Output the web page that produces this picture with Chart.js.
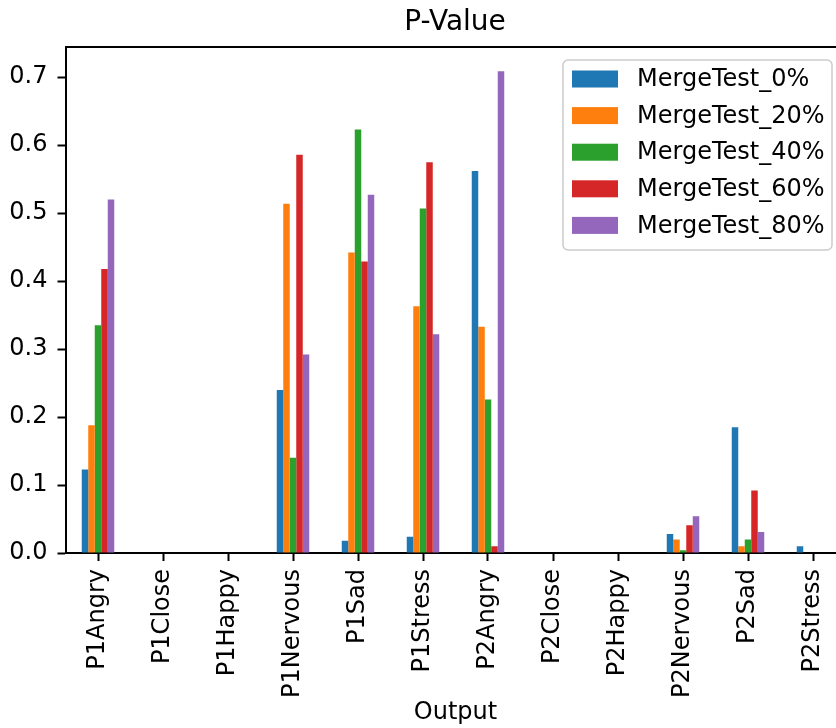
<!DOCTYPE html>
<html>
<head>
<meta charset="utf-8">
<script src="https://cdn.jsdelivr.net/npm/chart.js@4/dist/chart.umd.min.js"></script>
<style>
html,body{margin:0;padding:0;overflow:hidden;background:#fff;width:836px;height:728px;}
canvas{display:block;}
</style>
</head>
<body>
<canvas id="c" width="910" height="728"></canvas>
<script>
const categories = ['P1Angry','P1Close','P1Happy','P1Nervous','P1Sad','P1Stress','P2Angry','P2Close','P2Happy','P2Nervous','P2Sad','P2Stress'];
const seriesNames = ['MergeTest_0%','MergeTest_20%','MergeTest_40%','MergeTest_60%','MergeTest_80%'];
const mergeTest0  = [0.123,0,0,0.240,0.018,0.024,0.562,0,0,0.028,0.185,0.010];
const mergeTest20 = [0.188,0,0,0.514,0.442,0.363,0.333,0,0,0.020,0.010,0];
const mergeTest40 = [0.335,0,0,0.140,0.623,0.507,0.226,0,0,0.004,0.020,0];
const mergeTest60 = [0.418,0,0,0.586,0.429,0.575,0.010,0,0,0.041,0.092,0];
const mergeTest80 = [0.520,0,0,0.292,0.527,0.322,0.709,0,0,0.054,0.031,0];
const yTicks = [0.0,0.1,0.2,0.3,0.4,0.5,0.6,0.7];
const yMax = 0.7445;

const colors = ['#1f77b4','#ff7f0e','#2ca02c','#d62728','#9467bd'];
const seriesValues = [mergeTest0, mergeTest20, mergeTest40, mergeTest60, mergeTest80];
const FONT = "'DejaVu Sans', sans-serif";

const framePlugin = {
  id: 'frame',
  afterDatasetsDraw(chart) {
    const {ctx, chartArea: a} = chart;
    ctx.save();
    ctx.strokeStyle = '#000';
    ctx.lineWidth = 2;
    ctx.beginPath();
    ctx.moveTo(a.left, a.top);
    ctx.lineTo(a.right, a.top);
    ctx.lineTo(a.right, a.bottom);
    ctx.stroke();
    ctx.restore();
  },
  afterDraw(chart) {
    const {ctx, chartArea: a} = chart;
    const x0 = a.right - 282.5, y0 = a.top + 13, w = 269, h = 190;
    ctx.save();
    ctx.beginPath();
    if (ctx.roundRect) ctx.roundRect(x0, y0, w, h, 5); else ctx.rect(x0, y0, w, h);
    ctx.fillStyle = 'rgba(255,255,255,0.8)';
    ctx.fill();
    ctx.strokeStyle = '#cccccc';
    ctx.lineWidth = 1.5;
    ctx.stroke();
    ctx.font = '24px ' + FONT;
    ctx.textBaseline = 'middle';
    ctx.textAlign = 'left';
    chart.data.datasets.forEach((ds, i) => {
      const cy = y0 + 19 + i * 36.6;
      ctx.fillStyle = ds.backgroundColor;
      ctx.fillRect(x0 + 9, cy - 8.5, 46, 17);
      ctx.fillStyle = '#000';
      ctx.fillText(ds.label, x0 + 74, cy + 1);
    });
    ctx.restore();
  }
};

new Chart(document.getElementById('c'), {
  type: 'bar',
  data: {
    labels: categories,
    datasets: seriesNames.map((n, i) => ({
      label: n,
      data: seriesValues[i],
      backgroundColor: colors[i],
      borderWidth: 0,
      categoryPercentage: 0.5,
      barPercentage: 1.0
    }))
  },
  options: {
    responsive: false,
    animation: false,
    devicePixelRatio: 1,
    layout: {padding: {left: 0, right: 0, top: 0, bottom: 0}},
    plugins: {
      legend: {display: false},
      tooltip: {enabled: false},
      title: {
        display: true,
        text: 'P-Value',
        color: '#000',
        font: {family: FONT, size: 28, weight: 'normal'},
        padding: {top: 6, bottom: 7.4}
      }
    },
    scales: {
      x: {
        offset: true,
        grid: {display: true, drawOnChartArea: false, offset: false, drawTicks: true, tickLength: 8, tickWidth: 2, tickColor: '#000'},
        border: {display: true, color: '#000', width: 2},
        ticks: {color: '#000', font: {family: FONT, size: 24}, maxRotation: 90, minRotation: 90, padding: 8, autoSkip: false},
        title: {display: true, text: 'Output', color: '#000', font: {family: FONT, size: 24}, padding: {top: 0, bottom: 1}},
        afterFit(scale) { scale.height = 175; }
      },
      y: {
        min: 0,
        max: yMax,
        grid: {display: true, drawOnChartArea: false, drawTicks: true, tickLength: 8, tickWidth: 2, tickColor: '#000'},
        border: {display: true, color: '#000', width: 2},
        ticks: {color: '#000', font: {family: FONT, size: 24}, padding: 10, includeBounds: false,
          callback: (v) => Number(v).toFixed(1)},
        afterBuildTicks(scale) { scale.ticks = yTicks.map(v => ({value: v})); },
        afterFit(scale) { scale.width = 65.5; }
      },
      ySpacer: {
        type: 'linear',
        position: 'right',
        display: true,
        grid: {display: false, drawTicks: false},
        border: {display: false},
        ticks: {display: false},
        afterFit(scale) { scale.width = 64.5; }
      }
    }
  },
  plugins: [framePlugin]
});
</script>
</body>
</html>
